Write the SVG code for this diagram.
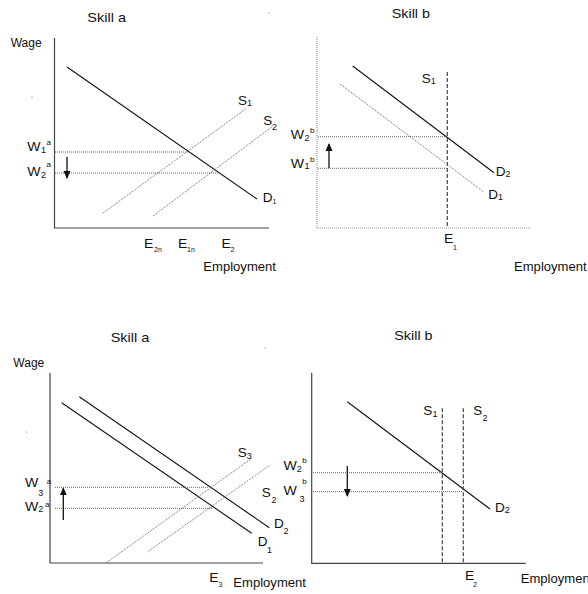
<svg xmlns="http://www.w3.org/2000/svg" width="588" height="594" viewBox="0 0 588 594">
<style>
text{font-family:"Liberation Sans",Arial,sans-serif;font-size:12px;fill:#111}
.t{font-size:13px}
.s{font-size:9px}
.sp{font-size:8px}
.ss{font-size:7px}
.ax{stroke:#444;stroke-width:1.2;fill:none}
.axd{stroke:#999;stroke-width:1.2;stroke-dasharray:1 1;fill:none}
.d{stroke:#111;stroke-width:1.1;fill:none}
.dot{stroke:#555;stroke-width:0.9;stroke-dasharray:1 1;fill:none}
.dash{stroke:#444;stroke-width:1.2;stroke-dasharray:4 2;fill:none}
.arr{stroke:#111;stroke-width:1.3;fill:none;marker-end:url(#ah)}
</style>
<defs>
<marker id="ah" markerUnits="userSpaceOnUse" markerWidth="8" markerHeight="8" viewBox="0 0 8 8" refX="7" refY="4" orient="auto">
<path d="M0,0.5 L8,4 L0,7.5 Z" fill="#111"/>
</marker>
</defs>
<rect width="588" height="594" fill="#fff"/>

<g id="panel-top-left">
<text class="t" x="87.3" y="21.7" textLength="38.7" lengthAdjust="spacingAndGlyphs">Skill a</text>
<text x="10.7" y="46.5" textLength="31" lengthAdjust="spacingAndGlyphs">Wage</text>
<circle cx="269" cy="13" r="0.6" fill="#666"/>
<circle cx="32" cy="97" r="0.6" fill="#666"/>
<path class="ax" d="M54.5,38 V228 H269"/>
<path class="d" d="M67,67 L257,199"/>
<path class="dot" d="M103,213 L247,108"/>
<path class="dot" d="M153,216 L273,126"/>
<path class="dot" d="M55,152 H188"/>
<path class="dot" d="M55,173 H218"/>
<path class="arr" d="M67,157 V178"/>
<text x="27.3" y="150.7" textLength="13.3" lengthAdjust="spacingAndGlyphs">W</text><text class="s" x="41" y="152.7">1</text><text class="sp" x="46.5" y="145">a</text>
<text x="27.3" y="176.3" textLength="13.3" lengthAdjust="spacingAndGlyphs">W</text><text class="s" x="41" y="178">2</text><text class="sp" x="46.5" y="167">a</text>
<text x="238" y="105" textLength="9" lengthAdjust="spacingAndGlyphs">S</text><text class="s" x="247" y="106">1</text>
<text x="263.3" y="125" textLength="9" lengthAdjust="spacingAndGlyphs">S</text><text class="s" x="272" y="130">2</text>
<text x="262.7" y="201.7" textLength="9.8" lengthAdjust="spacingAndGlyphs">D</text><text class="ss" x="272.5" y="204">1</text>
<text x="144" y="248.3" textLength="9.3" lengthAdjust="spacingAndGlyphs">E</text><text class="ss" x="154" y="251.7">2n</text>
<text x="178" y="248.3" textLength="9.3" lengthAdjust="spacingAndGlyphs">E</text><text class="ss" x="187" y="251.7">1n</text>
<text x="221.5" y="248.3" textLength="9.3" lengthAdjust="spacingAndGlyphs">E</text><text class="ss" x="230.5" y="251.7">2</text>
<text x="203.3" y="270.7" textLength="72.7" lengthAdjust="spacingAndGlyphs">Employment</text>
</g>

<g id="panel-top-right">
<text class="t" x="391.7" y="18.3" textLength="38.3" lengthAdjust="spacingAndGlyphs">Skill b</text>
<path class="axd" d="M317,37 V228 H532"/>
<path class="d" d="M352.7,66 L494,172.7"/>
<path class="dot" d="M340,84 L483.3,191.7"/>
<path class="dash" d="M447.3,72 V228"/>
<path class="dot" d="M318,136.7 H447"/>
<path class="dot" d="M318,168.3 H447"/>
<path class="arr" d="M329,168 V144"/>
<text x="290.7" y="138.7" textLength="13.3" lengthAdjust="spacingAndGlyphs">W</text><text class="s" x="304.5" y="140.7">2</text><text class="sp" x="310" y="132.7">b</text>
<text x="290.7" y="167.7" textLength="13.3" lengthAdjust="spacingAndGlyphs">W</text><text class="s" x="304.5" y="169">1</text><text class="sp" x="310" y="161.7">b</text>
<text x="421.7" y="82.7" textLength="9" lengthAdjust="spacingAndGlyphs">S</text><text class="s" x="430.7" y="84">1</text>
<text x="495.7" y="176" textLength="9.8" lengthAdjust="spacingAndGlyphs">D</text><text class="s" x="505.5" y="177">2</text>
<text x="488.3" y="199" textLength="9.8" lengthAdjust="spacingAndGlyphs">D</text><text class="s" x="498" y="200">1</text>
<text x="444" y="243.3" textLength="9.3" lengthAdjust="spacingAndGlyphs">E</text><text class="ss" x="453" y="249.5">1</text>
<text x="514" y="270.7" textLength="72.7" lengthAdjust="spacingAndGlyphs">Employment</text>
</g>

<g id="panel-bottom-left">
<text class="t" x="110.7" y="341.7" textLength="38.7" lengthAdjust="spacingAndGlyphs">Skill a</text>
<text x="13.3" y="366.5" textLength="31" lengthAdjust="spacingAndGlyphs">Wage</text>
<circle cx="265" cy="348" r="0.6" fill="#666"/>
<circle cx="26.7" cy="432" r="0.6" fill="#666"/>
<path class="ax" d="M50,373 V563 H263"/>
<path class="d" d="M61.7,402.7 L251.7,533.3"/>
<path class="d" d="M79.3,396.7 L269.3,527.7"/>
<path class="dot" d="M106,563 L251.7,458.3"/>
<path class="dot" d="M147.7,551.7 L270,465"/>
<path class="dot" d="M55,487.3 H208"/>
<path class="dot" d="M55,508.3 H213"/>
<path class="arr" d="M63.3,520 V488.3"/>
<text x="25" y="486.7" textLength="13.3" lengthAdjust="spacingAndGlyphs">W</text><text class="s" x="38.3" y="496">3</text><text class="sp" x="46.7" y="484">a</text>
<text x="25" y="511" textLength="13.3" lengthAdjust="spacingAndGlyphs">W</text><text class="s" x="38.3" y="512">2</text><text class="sp" x="45" y="506.7">a</text>
<text x="237.7" y="456.7" textLength="9" lengthAdjust="spacingAndGlyphs">S</text><text class="s" x="246.7" y="458.5">3</text>
<text x="261.7" y="496.7" textLength="9" lengthAdjust="spacingAndGlyphs">S</text><text class="s" x="271.5" y="502.5">2</text>
<text x="274" y="528.3" textLength="9.8" lengthAdjust="spacingAndGlyphs">D</text><text class="s" x="283.5" y="534">2</text>
<text x="257.7" y="546" textLength="9.8" lengthAdjust="spacingAndGlyphs">D</text><text class="s" x="267" y="552.5">1</text>
<text x="209.3" y="581.7" textLength="9.3" lengthAdjust="spacingAndGlyphs">E</text><text class="ss" x="218.5" y="586.5">3</text>
<text x="233.3" y="586.7" textLength="72.7" lengthAdjust="spacingAndGlyphs">Employment</text>
</g>

<g id="panel-bottom-right">
<text class="t" x="394.3" y="340" textLength="38.3" lengthAdjust="spacingAndGlyphs">Skill b</text>
<path class="ax" d="M311.7,372.7 V563.3 H525.7"/>
<path class="d" d="M347.3,401.7 L490,509"/>
<path class="dash" d="M442.3,408.3 V563"/>
<path class="dash" d="M463.3,408.3 V563"/>
<path class="dot" d="M313,472.7 H442"/>
<path class="dot" d="M313,491.7 H463"/>
<path class="arr" d="M347.3,466 V496"/>
<text x="283.5" y="470" textLength="13.3" lengthAdjust="spacingAndGlyphs">W</text><text class="s" x="296.7" y="472">2</text><text class="sp" x="302.3" y="462.7">b</text>
<text x="283.5" y="495" textLength="13.3" lengthAdjust="spacingAndGlyphs">W</text><text class="s" x="299.5" y="501.7">3</text><text class="sp" x="302.3" y="484">b</text>
<text x="423.3" y="415" textLength="9" lengthAdjust="spacingAndGlyphs">S</text><text class="s" x="432.5" y="416.7">1</text>
<text x="473.3" y="415" textLength="9" lengthAdjust="spacingAndGlyphs">S</text><text class="s" x="482.5" y="420.7">2</text>
<text x="495" y="511.7" textLength="9.8" lengthAdjust="spacingAndGlyphs">D</text><text class="s" x="504.8" y="513.3">2</text>
<text x="465" y="580" textLength="9.3" lengthAdjust="spacingAndGlyphs">E</text><text class="ss" x="473" y="587">2</text>
<text x="520.7" y="583.3" textLength="72.7" lengthAdjust="spacingAndGlyphs">Employment</text>
</g>
</svg>
